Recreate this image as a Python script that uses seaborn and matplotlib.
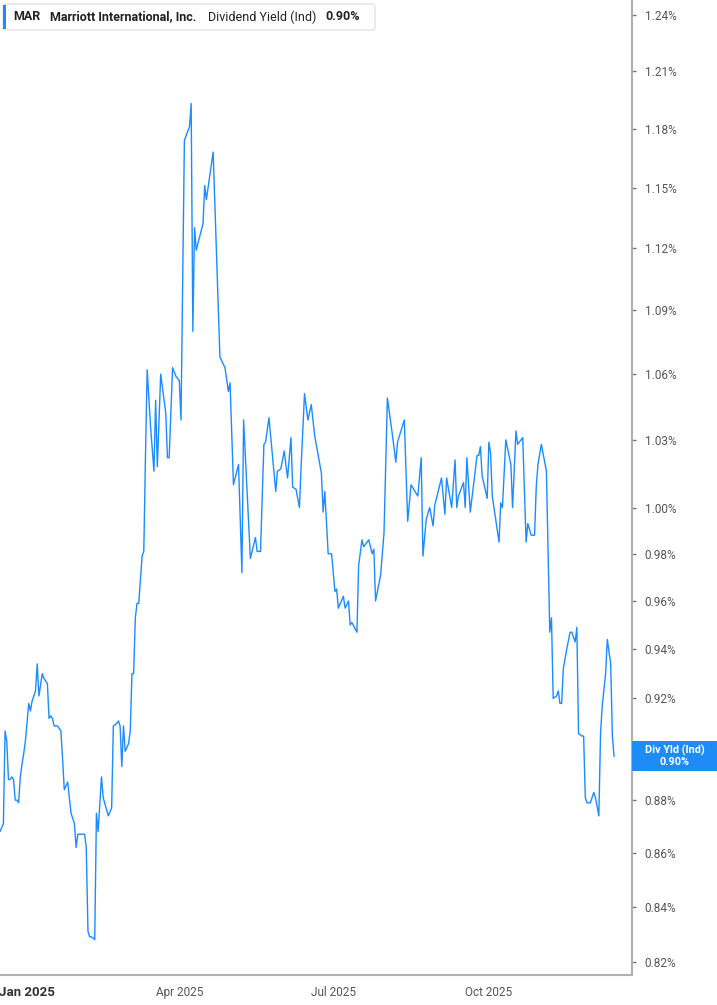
import pandas as pd
import numpy as np
import matplotlib
matplotlib.use("Agg")
import matplotlib.pyplot as plt
import matplotlib.ticker as mticker
import matplotlib.transforms as mtransforms
from matplotlib.patches import FancyBboxPatch, Rectangle
import seaborn as sns

# days counted from 2025-01-01
day_offsets = [
    -16, -14, -13, -12, -11, -10, -9, -8, -7, -6,
    -5, -4, -3, -2, -1, 1, 2, 3, 5, 6,
    7, 9, 10, 12, 13, 14, 15, 16, 18, 19,
    20, 21, 22, 24, 25, 26, 28, 29, 30, 32,
    34, 35, 36, 37, 38, 40, 41, 42, 44, 45,
    48, 50, 51, 53, 54, 55, 56, 57, 58, 60,
    61, 62, 63, 64, 65, 66, 68, 69, 70, 71,
    73, 75, 76, 77, 79, 82, 83, 84, 86, 88,
    90, 91, 93, 96, 97, 98, 99, 100, 104, 105,
    106, 110, 114, 117, 119, 120, 122, 125, 127, 128,
    132, 135, 136, 138, 140, 141, 143, 147, 148, 150,
    152, 154, 156, 157, 159, 161, 162, 164, 166, 168,
    170, 174, 175, 176, 178, 180, 182, 183, 184, 187,
    188, 190, 191, 192, 195, 196, 198, 199, 202, 204,
    205, 206, 209, 211, 213, 216, 218, 219, 223, 225,
    227, 231, 233, 234, 236, 238, 240, 241, 245, 247,
    248, 251, 253, 254, 255, 258, 259, 260, 262, 266,
    267, 268, 269, 272, 273, 274, 275, 279, 280, 281,
    283, 286, 287, 289, 290, 293, 295, 296, 298, 300,
    301, 302, 304, 307, 309, 310, 311, 313, 314, 315,
    316, 317, 319, 321, 322, 324, 325, 326, 328, 329,
    330, 331, 333, 335, 336, 338, 339, 340, 342, 343,
    345, 346, 347,
]

# dividend yield (%)
div_yield = [
    0.868, 0.871, 0.907, 0.903, 0.888, 0.888, 0.889, 0.888, 0.880, 0.880,
    0.879, 0.889, 0.894, 0.898, 0.903, 0.918, 0.915, 0.919, 0.923, 0.934,
    0.921, 0.930, 0.928, 0.926, 0.912, 0.913, 0.912, 0.909, 0.909, 0.908,
    0.907, 0.896, 0.884, 0.887, 0.881, 0.875, 0.871, 0.862, 0.867, 0.867,
    0.867, 0.862, 0.831, 0.829, 0.829, 0.828, 0.875, 0.868, 0.889, 0.881,
    0.874, 0.877, 0.909, 0.910, 0.911, 0.909, 0.893, 0.909, 0.899, 0.902,
    0.907, 0.930, 0.930, 0.953, 0.959, 0.959, 0.979, 0.981, 1.023, 1.062,
    1.036, 1.016, 1.048, 1.018, 1.060, 1.042, 1.022, 1.022, 1.063, 1.059,
    1.057, 1.039, 1.174, 1.181, 1.193, 1.080, 1.130, 1.119, 1.132, 1.151,
    1.144, 1.168, 1.068, 1.063, 1.052, 1.056, 1.010, 1.019, 0.972, 1.039,
    0.978, 0.987, 0.981, 0.981, 1.028, 1.029, 1.040, 1.007, 1.016, 1.017,
    1.025, 1.013, 1.031, 1.009, 1.008, 1.000, 1.018, 1.051, 1.039, 1.046,
    1.032, 1.015, 0.998, 1.007, 0.980, 0.980, 0.964, 0.965, 0.957, 0.962,
    0.957, 0.960, 0.950, 0.951, 0.947, 0.975, 0.986, 0.983, 0.986, 0.980,
    0.982, 0.960, 0.971, 0.989, 1.049, 1.032, 1.020, 1.029, 1.039, 0.994,
    1.010, 1.005, 1.022, 0.979, 0.995, 1.000, 0.992, 1.001, 1.013, 0.997,
    1.013, 1.000, 1.021, 1.000, 1.005, 1.011, 1.000, 1.022, 0.998, 1.023,
    1.023, 1.027, 1.014, 1.004, 1.029, 1.024, 1.005, 0.985, 1.002, 1.000,
    1.030, 1.019, 1.000, 1.034, 1.028, 1.031, 0.985, 0.993, 0.988, 0.988,
    1.009, 1.019, 1.028, 1.016, 0.947, 0.953, 0.920, 0.921, 0.923, 0.918,
    0.918, 0.932, 0.940, 0.947, 0.947, 0.943, 0.949, 0.906, 0.905, 0.905,
    0.881, 0.879, 0.879, 0.883, 0.881, 0.874, 0.906, 0.917, 0.930, 0.944,
    0.934, 0.905, 0.897,
]

# 0.90% sits under the last-value box, so it is not listed
y_ticks = [0.82, 0.84, 0.86, 0.88, 0.92, 0.94, 0.96, 0.98, 1.00,
           1.03, 1.06, 1.09, 1.12, 1.15, 1.18, 1.21, 1.24]
x_ticks = ["2025-01-01", "2025-04-01", "2025-07-01", "2025-10-01"]
x_tick_labels = ["Jan 2025", "Apr 2025", "Jul 2025", "Oct 2025"]

base = pd.Timestamp("2025-01-01")
dates = base + pd.to_timedelta(day_offsets, unit="D")
df = pd.DataFrame({"date": dates, "yield": div_yield})

sns.set_style("white")
plt.rcParams["font.family"] = ["Roboto", "DejaVu Sans"]

W, H = 717, 1005
fig = plt.figure(figsize=(W / 100, H / 100), dpi=100)
ax = fig.add_axes([0, 1 - 975 / H, 632 / W, 975 / H])

line_color = "#1a8cff"
sns.lineplot(data=df, x="date", y="yield", ax=ax, color=line_color, linewidth=1.0)

ax.set_yscale("log")
ax.set_ylim(0.8153, 1.2482)
ax.set_xlim(base - pd.Timedelta(days=16), base + pd.Timedelta(days=357.6))

ax.yaxis.set_major_locator(mticker.FixedLocator(y_ticks))
ax.yaxis.set_minor_locator(mticker.NullLocator())
ax.yaxis.set_minor_formatter(mticker.NullFormatter())
ax.yaxis.set_major_formatter(mticker.FuncFormatter(lambda v, p: f"{v:.2f}%"))
ax.yaxis.tick_right()
ax.yaxis.set_label_position("right")

ax.set_xticks(pd.to_datetime(x_ticks))
ax.set_xticklabels(x_tick_labels)
ax.set_xlabel("")
ax.set_ylabel("")

ax.tick_params(axis="y", which="major", direction="out", length=3, width=1,
               color="#777777", labelsize=8.5, labelcolor="#555555", pad=6)
ax.tick_params(axis="x", which="major", direction="out", length=5, width=1,
               color="#999999", labelsize=8.5, labelcolor="#555555", pad=3)
first = ax.get_xticklabels()[0]
first.set_fontweight("bold")
first.set_color("#333333")
first.set_fontsize(9.5)

for side in ["left", "top"]:
    ax.spines[side].set_visible(False)
for side in ["right", "bottom"]:
    ax.spines[side].set_color("#b0b0b0")
    ax.spines[side].set_linewidth(1.5)

# legend box top-left
def fx(px):
    return px / W

def fy(py):
    return 1 - py / H

legend_box = FancyBboxPatch((fx(3), fy(30)), fx(375) - fx(3), fy(4) - fy(30),
                            boxstyle="round,pad=0,rounding_size=0.003",
                            transform=fig.transFigure, facecolor="white",
                            edgecolor="#e3e3e3", linewidth=1, zorder=5)
fig.patches.append(legend_box)
fig.patches.append(Rectangle((fx(3), fy(29)), fx(3), fy(5) - fy(29),
                             transform=fig.transFigure, facecolor=line_color,
                             edgecolor="none", zorder=6))
ty = fy(17)
fig.text(fx(13), ty, "MAR", fontsize=9, fontweight="bold", color="#222222",
         va="center", zorder=8)
fig.text(fx(50), ty, "Marriott International, Inc.", fontsize=9, fontweight="bold",
         color="#222222", va="center", zorder=8)
fig.text(fx(208), ty, "Dividend Yield (Ind)", fontsize=9, color="#222222",
         va="center", zorder=8)
fig.text(fx(325), ty, "0.90%", fontsize=9, fontweight="bold", color="#222222",
         va="center", zorder=8)

# last value label on right axis
trans = mtransforms.blended_transform_factory(ax.transAxes, ax.transData)
y_disp = trans.transform((1, div_yield[-1]))[1]
yc = y_disp / fig.dpi / (H / 100)
box_h = 30 / H
fig.patches.append(Rectangle((632 / W, yc - box_h / 2), 85 / W, box_h,
                             transform=fig.transFigure, facecolor="#1e8cf5",
                             edgecolor="none", zorder=6))
fig.text(675 / W, yc + 6 / H, "Div Yld (Ind)", fontsize=7.8, fontweight="bold",
         color="white", ha="center", va="center", zorder=8)
fig.text(675 / W, yc - 6 / H, f"{div_yield[-1]:.2f}%", fontsize=7.8, fontweight="bold",
         color="white", ha="center", va="center", zorder=8)

plt.savefig("out.png", dpi=100)
